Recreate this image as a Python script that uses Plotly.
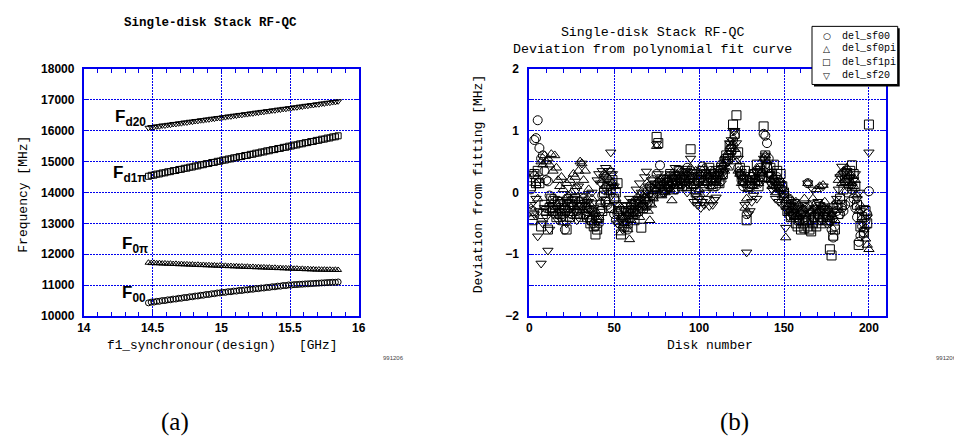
import plotly.graph_objects as go

W, H = 954, 445

# ---------------- Panel (a) data ----------------
f1_design = [14.47, 14.49, 14.51, 14.53, 14.55, 14.57, 14.59, 14.61, 14.63, 14.65,
             14.67, 14.69, 14.71, 14.73, 14.75, 14.77, 14.79, 14.81, 14.83, 14.85,
             14.87, 14.89, 14.91, 14.93, 14.95, 14.97, 14.99, 15.01, 15.03, 15.05,
             15.07, 15.09, 15.11, 15.13, 15.15, 15.17, 15.19, 15.21, 15.23, 15.25,
             15.27, 15.29, 15.31, 15.33, 15.35, 15.37, 15.39, 15.41, 15.43, 15.45,
             15.47, 15.49, 15.51, 15.53, 15.55, 15.57, 15.59, 15.61, 15.63, 15.65,
             15.67, 15.69, 15.71, 15.73, 15.75, 15.77, 15.79, 15.81, 15.83, 15.85]

f_d20 = [16095, 16118, 16120, 16142, 16145, 16170, 16168, 16190, 16195, 16218,
         16220, 16240, 16244, 16266, 16268, 16290, 16293, 16314, 16318, 16340,
         16342, 16362, 16368, 16388, 16391, 16412, 16416, 16437, 16440, 16462,
         16465, 16486, 16490, 16511, 16514, 16536, 16539, 16560, 16563, 16585,
         16588, 16609, 16612, 16634, 16637, 16658, 16661, 16683, 16686, 16708,
         16710, 16731, 16735, 16756, 16760, 16781, 16784, 16806, 16809, 16830,
         16834, 16855, 16858, 16880, 16883, 16904, 16907, 16928, 16932, 16952]

f_d1pi = [14525, 14556, 14562, 14595, 14600, 14632, 14637, 14670, 14675, 14708,
          14712, 14745, 14750, 14783, 14788, 14820, 14825, 14858, 14862, 14896,
          14900, 14934, 14938, 14971, 14975, 15009, 15013, 15047, 15051, 15084,
          15088, 15122, 15126, 15160, 15164, 15197, 15201, 15235, 15239, 15273,
          15277, 15310, 15314, 15348, 15352, 15386, 15390, 15423, 15427, 15461,
          15465, 15499, 15503, 15536, 15540, 15574, 15578, 15612, 15616, 15649,
          15653, 15687, 15691, 15725, 15729, 15762, 15766, 15800, 15804, 15835]

f_0pi = [11725, 11712, 11718, 11705, 11710, 11698, 11702, 11690, 11695, 11683,
         11688, 11676, 11680, 11669, 11673, 11662, 11666, 11654, 11659, 11647,
         11652, 11640, 11645, 11633, 11638, 11626, 11631, 11619, 11624, 11612,
         11617, 11605, 11610, 11598, 11603, 11591, 11596, 11584, 11589, 11577,
         11582, 11570, 11575, 11563, 11568, 11556, 11561, 11549, 11554, 11542,
         11547, 11535, 11540, 11528, 11533, 11521, 11526, 11514, 11519, 11507,
         11512, 11500, 11505, 11498, 11502, 11495, 11500, 11492, 11497, 11490]

f_00 = [10425, 10448, 10450, 10473, 10475, 10498, 10500, 10522, 10525, 10547,
        10549, 10572, 10574, 10596, 10598, 10621, 10623, 10645, 10648, 10670,
        10672, 10695, 10697, 10719, 10722, 10744, 10746, 10766, 10765, 10786,
        10785, 10806, 10805, 10826, 10825, 10846, 10845, 10866, 10865, 10886,
        10885, 10906, 10905, 10926, 10925, 10946, 10945, 10966, 10965, 10986,
        10985, 11005, 11002, 11015, 11018, 11026, 11029, 11037, 11040, 11048,
        11052, 11059, 11063, 11070, 11074, 11081, 11085, 11092, 11090, 11102]

# ---------------- Panel (b) data ----------------
disk_number = list(range(1, 201))

del_sf00 = [
    0.05, -0.3, 0.85, 0.88, 1.17, 0.72, 0.55, 0.6, 0.35, 0.2,
    0.18, -0.05, -0.25, -0.1, -0.3, -0.2, -0.35, -0.15, -0.4, -0.25,
    -0.6, -0.3, -0.1, -0.25, -0.35, -0.2, 0.05, -0.3, -0.15, -0.4,
    -0.2, -0.1, -0.35, -0.25, -0.4, -0.45, -0.3, -0.5, -0.55, -0.45,
    -0.5, -0.3, -0.05, 0.05, -0.15, -0.2, 0.1, -0.25, 0.15, -0.35,
    -0.45, -0.35, -0.5, -0.3, -0.4, -0.25, -0.45, -0.6, -0.35, -0.2,
    -0.3, -0.15, -0.35, -0.1, -0.25, -0.05, -0.2, -0.1, 0.05, -0.15,
    0.1, -0.05, 0.2, 0.05, 0.3, 0.15, 0.44, 0.1, 0.0, 0.2,
    0.05, 0.25, 0.1, 0.15, 0.3, 0.05, 0.2, 0.35, 0.15, 0.25,
    0.3, 0.2, 0.4, 0.15, 0.35, 0.25, 0.1, 0.3, 0.2, 0.28,
    0.35, 0.42, 0.2, 0.3, 0.15, 0.25, 0.35, 0.2, 0.3, 0.1,
    0.25, 0.35, 0.45, 0.3, 0.55, 0.5, 0.6, 0.7, 0.65, 0.85,
    0.92, 0.62, 0.4, 0.3, 0.2, 0.1, 0.15, -0.35, 0.2, 0.1,
    0.25, 0.3, 0.15, 0.35, 0.2, 0.4, 0.3, 0.95, 0.92, 0.8,
    0.55, 0.3, 0.15, 0.2, 0.1, 0.25, 0.15, 0.05, 0.1, -0.1,
    -0.15, -0.1, -0.25, -0.3, -0.35, -0.2, -0.4, -0.3, -0.45, -0.35,
    -0.3, -0.4, -0.25, 0.15, -0.35, -0.45, -0.3, -0.4, -0.2, -0.35,
    -0.3, -0.45, -0.25, -0.35, -0.4, -0.5, -0.45, -0.6, -0.73, -0.55,
    -0.3, -0.2, -0.35, -0.25, -0.3, -0.2, 0.0, 0.1, -0.15, 0.05,
    -0.1, -0.25, -0.4, -0.8, -0.7, -0.55, -0.65, -0.45, -0.35, 0.02]

del_sf0pi = [
    -0.25, -0.4, 0.3, 0.15, -0.1, 0.2, 0.5, 0.45, 0.6, 0.5,
    0.55, 0.45, 0.62, 0.35, 0.6, 0.4, 0.2, 0.1, 0.25, 0.05,
    -0.1, 0.15, -0.05, 0.2, 0.0, 0.3, 0.25, 0.1, 0.35, 0.5,
    0.47, 0.2, 0.35, -0.1, 0.05, -0.2, -0.1, -0.35, -0.3, -0.45,
    -0.4, -0.15, 0.2, 0.3, 0.1, 0.25, 0.0, 0.35, 0.15, 0.1,
    -0.1, -0.3, -0.2, -0.65, -0.4, -0.5, -0.3, -0.6, -0.76, -0.45,
    -0.35, -0.2, -0.3, -0.15, -0.4, -0.2, -0.05, -0.25, -0.1, -0.3,
    -0.45, -0.2, -0.1, 0.05, 0.75, 0.1, 0.2, -0.05, 0.15, 0.0,
    0.1, 0.2, 0.05, -0.13, 0.25, 0.15, 0.3, 0.1, 0.2, 0.35,
    0.25, 0.15, 0.3, 0.2, 0.4, 0.1, 0.25, 0.35, 0.15, 0.05,
    0.3, 0.2, 0.4, 0.15, 0.3, 0.25, 0.1, 0.35, 0.2, 0.3,
    0.15, 0.3, 0.25, 0.45, 0.35, 0.5, 0.4, 0.65, 0.75, 0.8,
    0.7, 0.5, 0.35, 0.3, 0.15, 0.25, -0.25, -0.1, 0.05, 0.2,
    0.3, 0.1, 0.25, 0.4, 0.15, 0.3, 0.35, 0.55, 0.6, 0.5,
    0.3, 0.2, 0.1, 0.25, 0.0, 0.15, 0.05, 0.2, -0.05, 0.05,
    -0.73, -0.2, -0.3, -0.1, -0.25, -0.4, -0.15, -0.35, -0.2, -0.3,
    -0.25, -0.1, -0.35, 0.15, -0.2, -0.3, -0.1, -0.25, 0.05, -0.3,
    0.1, -0.2, 0.12, -0.15, -0.3, -0.25, -0.4, -0.35, -0.2, -0.45,
    -0.15, 0.2, 0.3, 0.15, 0.35, 0.2, 0.4, 0.25, 0.3, 0.15,
    0.1, 0.2, -0.05, -0.3, -0.2, -0.4, -0.6, -0.75, -0.85, -0.92]

del_sf1pi = [
    0.1, -0.45, 0.3, 0.15, 0.35, 0.15, -0.55, -0.35, -0.2, -0.3,
    -0.6, -0.25, -0.1, -0.3, -0.2, -0.4, -0.15, -0.35, -0.25, -0.45,
    -0.3, -0.6, -0.2, -0.4, -0.15, -0.3, -0.1, -0.35, -0.2, -0.25,
    -0.15, -0.35, -0.25, -0.4, -0.3, -0.5, -0.45, -0.55, -0.68, -0.6,
    -0.4, -0.2, -0.3, 0.0, -0.15, 0.1, -0.25, 0.05, 0.2, -0.1,
    0.0, 0.15, -0.3, -0.68, -0.45, -0.55, -0.3, -0.5, -0.4, -0.25,
    -0.35, -0.45, -0.2, -0.3, -0.15, -0.57, -0.25, -0.1, -0.2, 0.0,
    -0.15, 0.05, -0.05, 0.1, 0.9, 0.8, 0.15, 0.0, 0.2, 0.05,
    0.15, 0.1, 0.3, 0.2, 0.05, 0.25, 0.15, 0.35, 0.2, 0.1,
    0.2, 0.35, 0.1, 0.25, 0.7, 0.3, 0.15, 0.0, -0.1, 0.2,
    0.25, 0.35, 0.15, 0.3, 0.2, 0.4, 0.25, 0.1, 0.3, 0.2,
    0.35, 0.15, 0.4, 0.3, 0.5, 0.6, 0.55, 0.75, 0.7, 1.1,
    0.95, 1.25, 0.65, 0.4, 0.3, 0.2, 0.35, -0.45, 0.1, 0.25,
    0.15, 0.3, 0.2, 0.45, 0.1, 0.35, 0.25, 1.07, 0.6, 0.4,
    0.25, 0.4, 0.3, 0.45, 0.2, 0.35, 0.15, 0.3, 0.1, 0.0,
    -0.2, -0.3, -0.15, -0.4, -0.25, -0.35, -0.5, -0.55, -0.45, -0.6,
    -0.5, -0.58, -0.45, -0.55, -0.6, -0.63, -0.5, -0.4, -0.55, -0.45,
    -0.35, -0.5, -0.4, -0.3, -0.45, -0.4, -0.92, -1.02, -0.7, -0.6,
    -0.25, -0.35, -0.1, -0.2, 0.05, 0.2, 0.3, 0.15, 0.35, 0.44,
    0.3, 0.1, -0.2, -0.85, -0.55, -0.4, -0.65, -0.3, -0.5, 1.1]

del_sf20 = [
    -0.2, 0.3, -0.35, -0.1, -0.71, -0.3, -1.15, -0.5, -0.25, -0.4,
    -0.94, -0.6, -0.2, -0.35, -0.1, -0.25, -0.45, -0.3, -0.15, -0.4,
    -0.25, -0.5, -0.15, -0.35, -0.2, -0.1, -0.3, -0.45, 0.1, -0.2,
    0.47, -0.05, -0.2, -0.35, -0.15, -0.3, 0.0, -0.25, -0.4, 0.2,
    0.3, 0.15, 0.35, 0.25, 0.4, 0.2, 0.35, 0.65, 0.3, 0.1,
    -0.2, -0.5, -0.35, -0.45, -0.6, -0.3, -0.2, -0.4, -0.1, -0.3,
    -0.15, -0.25, 0.05, -0.1, 0.15, 0.0, -0.2, 0.25, 0.34, 0.1,
    0.05, 0.2, -0.05, 0.15, 0.78, 0.3, 0.1, 0.25, 0.0, 0.15,
    0.2, 0.05, 0.3, 0.1, 0.25, 0.4, 0.15, 0.3, 0.2, 0.1,
    0.15, 0.35, 0.0, 0.25, 0.55, 0.1, -0.15, -0.05, -0.2, -0.1,
    -0.25, -0.15, -0.2, 0.0, -0.1, -0.22, 0.1, -0.2, -0.12, -0.08,
    0.2, 0.3, 0.15, 0.4, 0.35, 0.55, 0.5, 0.8, 0.85, 1.0,
    1.0, 0.8, 0.55, 0.3, 0.25, 0.15, -0.2, -0.97, -0.35, -0.3,
    -0.15, -0.05, 0.2, -0.1, 0.35, 0.15, 0.25, 0.55, 0.6, 0.45,
    0.3, 0.15, 0.05, 0.2, -0.1, 0.1, -0.15, 0.0, -0.2, -0.05,
    -0.57, -0.3, -0.4, -0.2, -0.35, -0.15, -0.3, -0.45, -0.25, -0.4,
    -0.35, -0.2, -0.45, 0.15, -0.3, -0.4, 0.05, -0.25, -0.35, -0.15,
    -0.2, -0.3, 0.1, -0.25, -0.4, -0.3, -0.5, -0.35, -0.45, -0.3,
    -0.1, 0.05, 0.25, 0.42, 0.3, 0.15, 0.35, 0.2, 0.25, 0.1,
    0.2, 0.3, -0.1, 0.0, -0.3, -0.5, -0.25, -0.6, -0.4, 0.65]

legend_names = ["del_sf00", "del_sf0pi", "del_sf1pi", "del_sf20"]
legend_glyphs = ["\u25CB", "\u25B3", "\u25A1", "\u25BD"]

# ---------------- figure ----------------
BLUE = "#0000ee"
MONO = "Liberation Mono"
SANS = "Liberation Sans"

def px(x):
    return x / W

def py(y):
    return 1 - y / H

fig = go.Figure()

def mk(sym, size):
    return dict(symbol=sym, size=size, color="black", line=dict(width=1, color="black"))

for ys, sym in [(f_d20, "triangle-down-open"), (f_d1pi, "square-open"),
                (f_0pi, "triangle-up-open"), (f_00, "circle-open")]:
    fig.add_trace(go.Scatter(x=f1_design, y=ys, mode="markers", marker=mk(sym, 6),
                             xaxis="x", yaxis="y", showlegend=False, cliponaxis=False))

for ys, sym, name in [(del_sf00, "circle-open", legend_names[0]),
                      (del_sf0pi, "triangle-up-open", legend_names[1]),
                      (del_sf1pi, "square-open", legend_names[2]),
                      (del_sf20, "triangle-down-open", legend_names[3])]:
    fig.add_trace(go.Scatter(x=disk_number, y=ys, mode="markers", marker=mk(sym, 9),
                             name=name, xaxis="x2", yaxis="y2", showlegend=False))

tickfont = dict(family=SANS, size=12, color="black", weight="bold")
axis_common = dict(showline=True, linecolor=BLUE, linewidth=2, mirror="allticks",
                   showgrid=True, gridcolor=BLUE, griddash="2px,1px", gridwidth=1,
                   zeroline=False, ticks="inside", ticklen=5, tickcolor=BLUE,
                   tickfont=tickfont)

ydom = [py(319), py(64)]
fig.update_layout(
    width=W, height=H, margin=dict(l=0, r=0, t=0, b=0),
    paper_bgcolor="white", plot_bgcolor="white",
    xaxis=dict(domain=[px(78), px(357)], range=[14, 16], dtick=0.5, tick0=14,
               minor=dict(dtick=0.1, ticks="inside", ticklen=4, tickcolor=BLUE, showgrid=False),
               anchor="y", **axis_common),
    yaxis=dict(domain=ydom, range=[10000, 18000], dtick=1000, anchor="x", tickformat="d",
               ticklabelstandoff=5, **axis_common),
    xaxis2=dict(domain=[px(530), px(892)], range=[0, 210], dtick=50, tick0=0,
                minor=dict(dtick=10, ticks="inside", ticklen=4, tickcolor=BLUE, showgrid=False),
                anchor="y2", **axis_common),
    yaxis2=dict(domain=ydom, range=[-2, 2], anchor="x2", dtick=1, tick0=0,
                minor=dict(dtick=0.5, ticks="inside", ticklen=5, tickcolor=BLUE,
                           showgrid=True, gridcolor=BLUE, griddash="2px,1px", gridwidth=1),
                ticklabelstandoff=6, **axis_common),
)

ann = []

def text(x, y, s, size, family=MONO, weight="normal", angle=0, xanchor="center", color="black"):
    ann.append(dict(x=px(x), y=py(y), xref="paper", yref="paper", text=s, showarrow=False,
                    xanchor=xanchor, yanchor="middle", textangle=angle,
                    font=dict(family=family, size=size, color=color, weight=weight)))

# panel (a) texts
text(207, 17, "Single-disk Stack RF-QC", 12.5, weight="bold")
text(17, 193, "Frequency\u00a0[MHz]", 13, angle=-90)
text(218, 350, "f1_synchronour(design)\u00a0\u00a0\u00a0[GHz]", 12.8)
text(392, 362, "991206", 6, family=SANS, color="#444")
text(170, 428, "(a)", 25, family="Liberation Serif")
# mode labels
text(108, 115, "F<sub>d20</sub>", 17, family=SANS, weight="bold", xanchor="left")
text(106, 172, "F<sub>d1\u03c0</sub>", 17, family=SANS, weight="bold", xanchor="left")
text(115, 246, "F<sub>0\u03c0</sub>", 17, family=SANS, weight="bold", xanchor="left")
text(115, 296, "F<sub>00</sub>", 17, family=SANS, weight="bold", xanchor="left")

# panel (b) texts
text(655, 35, "Single-disk Stack RF-QC<br>Deviation from polynomial fit curve", 13.3)
text(478, 183, "Deviation from fitting [MHz]", 13, angle=-90)
text(713, 350, "Disk number", 13)
text(941, 362, "991206", 6, family=SANS, color="#444", xanchor="left")
text(738, 428, "(b)", 25, family="Liberation Serif")

# manual legend
rows = [30, 43, 57, 71]
for yy, g, name in zip(rows, legend_glyphs, legend_names):
    text(832, yy, g, 9, family="DejaVu Sans")
    text(845, yy, name, 10, xanchor="left")

fig.update_layout(annotations=ann)

fig.update_layout(shapes=[
    dict(type="rect", xref="paper", yref="paper", x0=px(819), x1=px(906), y0=py(82), y1=py(22),
         fillcolor="black", line=dict(width=0), layer="above"),
    dict(type="rect", xref="paper", yref="paper", x0=px(817), x1=px(904), y0=py(80), y1=py(20),
         fillcolor="white", line=dict(width=1, color="black"), layer="above"),
])

fig.write_html("out.html")
